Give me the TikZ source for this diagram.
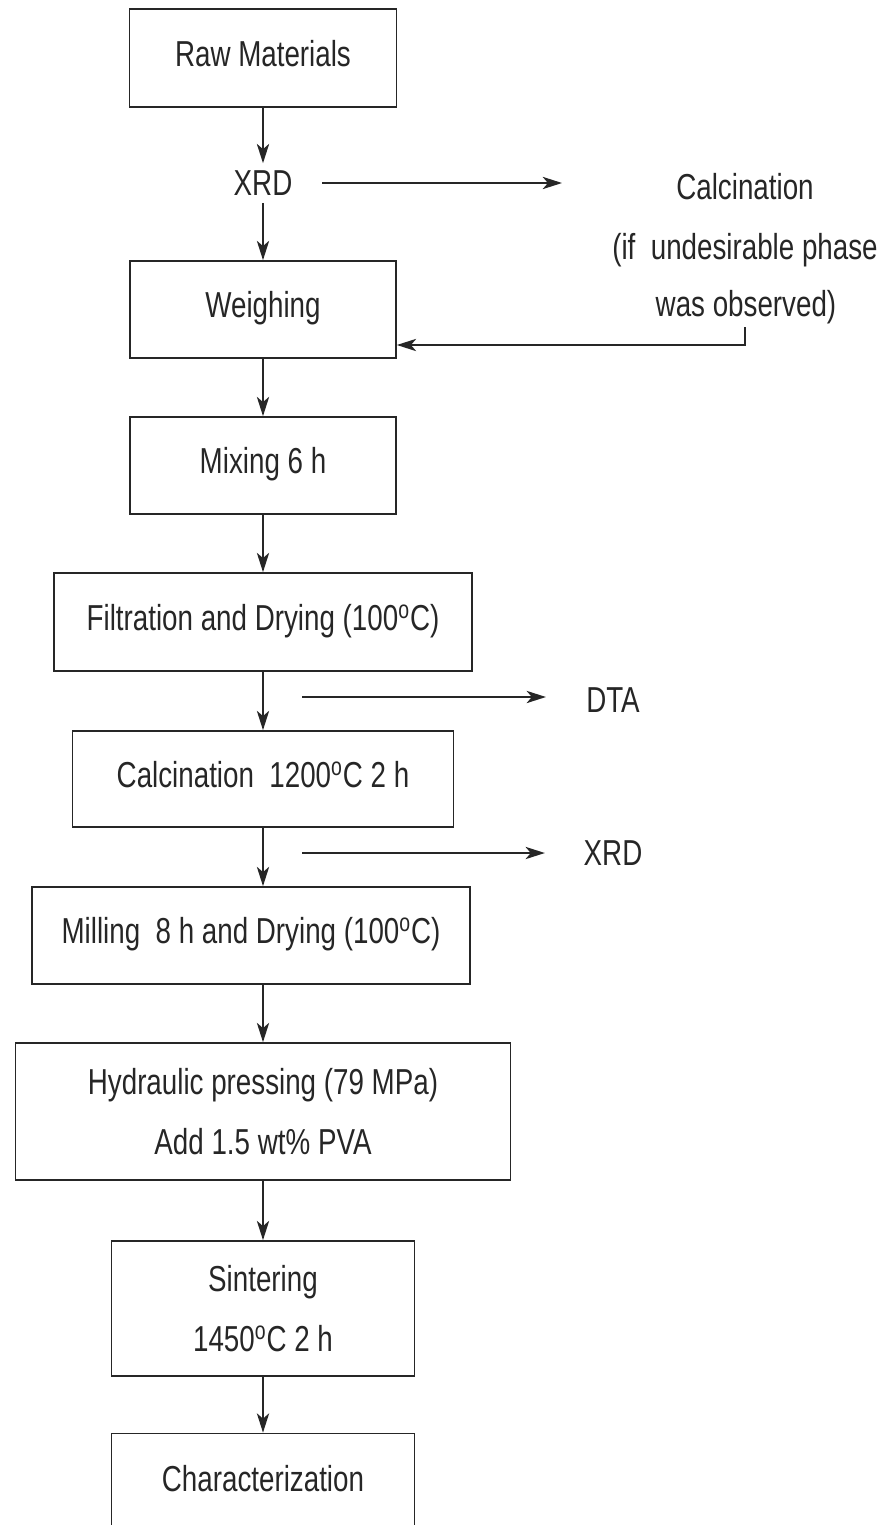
\documentclass[tikz,border=0pt]{standalone}
\usepackage{fontspec}
\setmainfont{Liberation Sans}
\usepackage{graphicx}
\usetikzlibrary{arrows.meta}
\newcommand{\tallt}[1]{\scalebox{1}[1.3]{#1}}
\newcommand{\degC}{\textsuperscript{o}C}

\begin{document}
\begin{tikzpicture}[x=0.02cm, y=-0.02cm,
    every node/.style={font=\fontsize{15.8}{34}\selectfont, text=black!85},
    stage/.style={draw=black!85, line width=1pt, text height=15.4pt, text depth=6.2pt},
    stagetwo/.style={draw=black!85, line width=1pt, align=center},
    side/.style={inner sep=0pt},
    arr/.style={-{Stealth[length=11pt,width=7pt,inset=3pt]}, draw=black!85, line width=1pt}]

    \useasboundingbox (0,0) rectangle (884,1525);
    \clip (0,0) rectangle (884,1525);

    % main column
    \node[stage, minimum width=5.34cm, minimum height=1.96cm] (raw) at (263,58) {\tallt{Raw Materials}};
    \node[side, inner ysep=4pt] (xrd) at (263,183) {\tallt{XRD}};
    \node[stage, minimum width=5.32cm, minimum height=1.94cm] (weigh) at (263,309.5) {\tallt{Weighing}};
    \node[stage, minimum width=5.32cm, minimum height=1.94cm] (mix) at (263,465.5) {\tallt{Mixing 6 h}};
    \node[stage, minimum width=8.36cm, minimum height=1.96cm] (filt) at (263,622) {\tallt{Filtration and Drying (100\degC)}};
    \node[stage, minimum width=7.62cm, minimum height=1.92cm] (calc) at (263,779) {\tallt{Calcination\ \ 1200\degC{} 2 h}};
    \node[stage, minimum width=8.76cm, minimum height=1.94cm] (mill) at (251,935.5) {\tallt{Milling\ \ 8 h and Drying (100\degC)}};
    \node[stagetwo, minimum width=9.9cm, minimum height=2.74cm] (press) at (263,1111.5)
        {\tallt{Hydraulic pressing (79 MPa)}\\ \tallt{Add 1.5 wt\% PVA}};
    \node[stagetwo, minimum width=6.06cm, minimum height=2.7cm] (sinter) at (263,1308.5)
        {\tallt{Sintering}\\ \tallt{1450\degC{} 2 h}};
    \node[stage, minimum width=6.06cm, minimum height=1.98cm] (charac) at (263,1483) {\tallt{Characterization}};

    % side notes
    \node[side] (calcside) at (745,187) {\tallt{Calcination}};
    \node[side] (ifnote) at (745,250) {\tallt{(if\ \ undesirable phase}};
    \node[side] (obsnote) at (746,307) {\tallt{was observed)}};
    \node[side] (dta) at (613,700) {\tallt{DTA}};
    \node[side] (xrdb) at (613,853) {\tallt{XRD}};
    \coordinate (ret) at (745,327);
    \coordinate (dtaL) at (302,697);
    \coordinate (xrdL) at (302,853);

    \draw[arr] (raw) -- (xrd);
    \draw[arr] (xrd) -- (weigh);
    \draw[arr] (weigh) -- (mix);
    \draw[arr] (mix) -- (filt);
    \draw[arr] (filt) -- (calc);
    \draw[arr] (calc.south) -- (calc.south |- mill.north);
    \draw[arr] (mill.south -| press.north) -- (press.north);
    \draw[arr] (press) -- (sinter);
    \draw[arr] (sinter) -- (charac);

    \draw[arr, shorten <=0.59cm, shorten >=2.28cm] (xrd.east) -- (xrd.east -| calcside.west);
    \draw[arr] (ret) |- (weigh.east |- 0,345);
    \draw[arr, shorten >=0.8cm] (dtaL) -- (dtaL -| dta.west);
    \draw[arr, shorten >=0.77cm] (xrdL) -- (xrdL -| xrdb.west);
\end{tikzpicture}
\end{document}
